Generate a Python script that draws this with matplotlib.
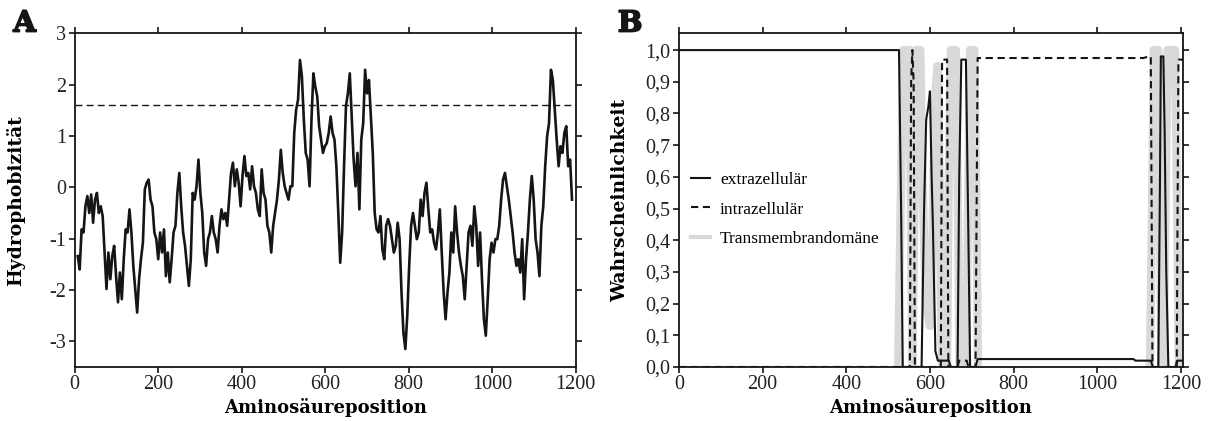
import numpy as np
import matplotlib
matplotlib.use('Agg')
import matplotlib.pyplot as plt
import matplotlib.patheffects as pe
from matplotlib.lines import Line2D

plt.rcParams['axes.unicode_minus'] = False

# --- Panel A: hydrophobicity profile (sampled every ~4.6 residues) ---
hyd_start = 7.3
hyd_step = 4.59
hydro = [
    -1.34, -1.60, -0.82, -0.88, -0.37, -0.17, -0.50, -0.14, -0.69, -0.24,
    -0.11, -0.50, -0.37, -0.56, -1.27, -1.98, -1.27, -1.79, -1.34, -1.14,
    -1.73, -2.24, -1.66, -2.18, -1.40, -0.82, -0.88, -0.43, -0.88, -1.53,
    -1.98, -2.44, -1.79, -1.40, -1.08, -0.04, 0.09, 0.15, -0.24, -0.37,
    -0.88, -1.01, -1.40, -0.88, -1.27, -0.82, -1.73, -1.27, -1.85, -1.40,
    -0.88, -0.75, -0.11, 0.28, -0.37, -0.88, -1.14, -1.53, -1.92, -1.40,
    -0.11, -0.24, 0.02, 0.54, -0.11, -0.50, -1.27, -1.53, -1.01, -0.88,
    -0.56, -0.88, -1.01, -1.27, -0.75, -0.43, -0.62, -0.50, -0.75, -0.24,
    0.28, 0.48, 0.02, 0.35, 0.09, -0.37, 0.22, 0.61, 0.22, 0.28,
    -0.04, 0.41, 0.02, -0.11, -0.43, -0.56, 0.35, -0.11, -0.24, -0.75,
    -0.88, -1.27, -0.75, -0.50, -0.24, 0.15, 0.73, 0.28, 0.02, -0.11,
    -0.24, 0.02, 0.02, 1.06, 1.51, 1.71, 2.48, 2.16, 1.32, 0.67,
    0.54, 0.02, 1.32, 2.22, 1.96, 1.77, 1.19, 0.93, 0.67, 0.80,
    0.86, 1.06, 1.38, 1.06, 0.93, 0.41, -0.50, -1.47, -0.88, 0.41,
    1.58, 1.83, 2.22, 1.38, 0.54, 0.02, 0.67, -0.43, 0.93, 1.25,
    2.29, 1.83, 2.09, 1.38, 0.67, -0.50, -0.82, -0.88, -0.56, -1.21,
    -1.40, -0.75, -0.62, -0.75, -1.01, -1.27, -1.14, -0.69, -1.01, -2.05,
    -2.83, -3.15, -2.50, -1.53, -0.75, -0.50, -0.75, -1.01, -0.88, -0.24,
    -0.56, -0.11, 0.09, -0.43, -0.88, -0.82, -1.08, -1.21, -0.88, -0.43,
    -1.27, -2.05, -2.57, -2.05, -1.66, -0.88, -1.27, -0.37, -0.88, -1.27,
    -1.53, -1.73, -2.18, -1.53, -0.88, -0.75, -1.14, -0.37, -0.75, -1.53,
    -0.88, -1.79, -2.57, -2.89, -2.18, -1.40, -1.08, -1.27, -1.01, -1.01,
    -0.75, -0.24, 0.15, 0.28, 0.02, -0.24, -0.56, -0.88, -1.27, -1.53,
    -1.40, -1.66, -1.01, -2.18, -1.40, -0.88, -0.24, 0.22, -0.24, -1.01,
    -1.27, -1.73, -0.75, -0.37, 0.41, 0.99, 1.25, 2.29, 2.09, 1.51,
    0.93, 0.41, 0.80, 0.67, 1.06, 1.19, 0.41, 0.54, -0.24,
]
hyd_pos = hyd_start + hyd_step * np.arange(len(hydro))
threshold = 1.6

# --- Panel B: topology probabilities ---
ext_pos = [0, 526, 531, 535, 580, 586, 591, 596, 600, 604, 607, 613, 619, 645,
           650, 666, 670, 675, 686, 691, 696, 709, 714, 1087, 1091, 1128, 1133,
           1146, 1150, 1152, 1158, 1161, 1165, 1170, 1187, 1191, 1205]
ext_val = [1.0, 1.0, 0.5, 0.0, 0.0, 0.5, 0.78, 0.82, 0.87, 0.6, 0.45, 0.05, 0.02,
           0.02, 0.0, 0.0, 0.6, 0.97, 0.97, 0.5, 0.0, 0.0, 0.025, 0.025, 0.02,
           0.02, 0.0, 0.0, 0.6, 0.98, 0.98, 0.75, 0.3, 0.0, 0.0, 0.02, 0.02]

int_pos = [0, 552, 555, 558, 561, 564, 626, 629, 641, 644, 666, 670, 688, 692,
           709, 714, 1110, 1124, 1128, 1132, 1190, 1194, 1205]
int_val = [0.0, 0.0, 0.9, 1.0, 0.9, 0.0, 0.0, 0.97, 0.97, 0.0, 0.0, 0.02, 0.02,
           0.0, 0.0, 0.975, 0.975, 0.98, 0.98, 0.0, 0.0, 0.97, 0.97]

# transmembrane: two stretches (nan = no segment drawn)
tm_pos = [524, 530, 536, 551, 555, 558, 562, 566, 577, 582, 590, 600, 606,
          612, 618, 623, 627, 630, 641, 645, 650, 662, 667, 671, 687, 691, 696,
          706, 711, 715, 900, 1126, 1131, 1135, 1146, 1150, 1153, 1159, 1163, 1168,
          1186, 1191, 1195]
tm_val = [0.0, 0.5, 1.0, 1.0, 0.4, 0.0, 0.4, 1.0, 1.0, 0.6, 0.2, 0.13, 0.4,
          0.85, 0.95, 0.6, 0.1, 0.0, 0.0, 0.6, 1.0, 1.0, 0.5, 0.0, 0.0, 0.5, 1.0,
          1.0, 0.5, 0.0, np.nan, 0.0, 0.5, 1.0, 1.0, 0.5, 0.0, 0.0, 0.5, 1.0,
          1.0, 0.5, 0.0]

labels_b = ['extrazellulär', 'intrazellulär', 'Transmembrandomäne']

serif = 'Liberation Serif'
bold = 'DejaVu Serif'
tick_fs = 14.5
lab_fs = 12.5
grey = '#d9d9d9'
ink = '#151515'

fig = plt.figure(figsize=(12.09, 4.21), dpi=100)
ax1 = fig.add_axes([0.0618, 0.1283, 0.4146, 0.7926])
ax2 = fig.add_axes([0.5616, 0.1283, 0.4169, 0.7926])


def style(ax):
    for s in ax.spines.values():
        s.set_linewidth(1.3)
        s.set_color(ink)
    ax.tick_params(direction='out', length=4, width=1.2, color=ink,
                   top=True, right=True, labeltop=False, labelright=False,
                   labelsize=tick_fs, labelcolor='#222222', pad=2)
    for t in ax.get_xticklabels() + ax.get_yticklabels():
        t.set_fontfamily(serif)


# A
ax1.plot(hyd_pos, hydro, color=ink, lw=1.9, solid_joinstyle='round')
ax1.axhline(threshold, color=ink, lw=1.0, ls=(0, (5, 3)))
ax1.set_xlim(0, 1201)
ax1.set_ylim(-3.5, 3)
ax1.set_xticks(range(0, 1201, 200))
ax1.set_yticks(range(-3, 4))
style(ax1)
ax1.set_xlabel('Aminosäureposition', family=bold, weight='bold', fontsize=13, labelpad=3)
ax1.set_ylabel('Hydrophobizität', family=bold, weight='bold', fontsize=13.5)
ax1.yaxis.set_label_coords(-0.098, 0.5)

# B
ax2.plot(tm_pos, tm_val, color=grey, lw=6, solid_capstyle='round', solid_joinstyle='round')
ax2.plot(ext_pos, ext_val, color=ink, lw=1.5)
ax2.plot(int_pos, int_val, color=ink, lw=1.5, ls=(0, (3.5, 2.2)))
ax2.set_xlim(0, 1205)
ax2.set_ylim(0, 1.053)
ax2.set_xticks(range(0, 1201, 200))
yt = np.round(np.arange(0, 1.01, 0.1), 1)
ax2.set_yticks(yt)
ax2.set_yticklabels([f'{v:.1f}'.replace('.', ',') for v in yt])
style(ax2)
ax2.set_xlabel('Aminosäureposition', family=bold, weight='bold', fontsize=13, labelpad=3)
ax2.set_ylabel('Wahrscheinlichkeit', family=bold, weight='bold', fontsize=13.5)
ax2.yaxis.set_label_coords(-0.098, 0.5)

handles = [Line2D([], [], color=ink, lw=1.5),
           Line2D([], [], color=ink, lw=1.5, ls=(0, (3.5, 2.2))),
           Line2D([], [], color=grey, lw=3)]
ax2.legend(handles, labels_b, loc='center left', bbox_to_anchor=(0.023, 0.472),
           frameon=False, borderpad=0, borderaxespad=0, handlelength=1.1,
           handletextpad=0.6, labelspacing=0.75,
           prop={'family': serif, 'size': lab_fs})

thick = [pe.withStroke(linewidth=1.2, foreground=ink)]
fig.text(0.011, 0.925, 'A', family=bold, weight='bold', fontsize=21, color=ink,
         path_effects=thick)
fig.text(0.511, 0.925, 'B', family=bold, weight='bold', fontsize=21, color=ink,
         path_effects=thick)

fig.savefig('out.png', dpi=100)
